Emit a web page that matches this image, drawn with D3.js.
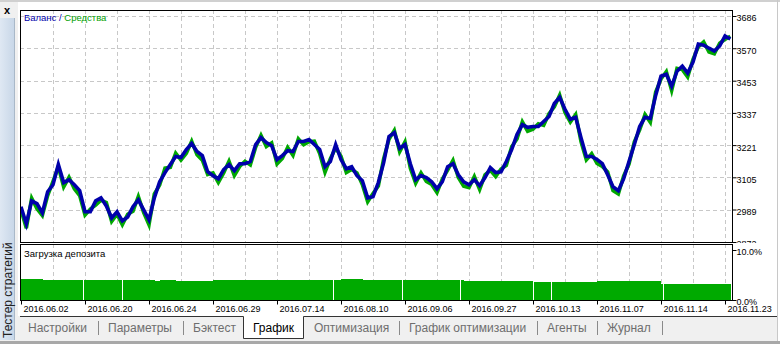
<!DOCTYPE html>
<html>
<head>
<meta charset="utf-8">
<script src="https://cdnjs.cloudflare.com/ajax/libs/d3/7.8.5/d3.min.js"></script>
<style>
body { margin: 0; background: #fff; overflow: hidden; }
text { font-family: "Liberation Sans", Arial, sans-serif; }
</style>
</head>
<body>
<script>
// balance / equity per bar (tester chart, bars are evenly spaced)
var balance = [2999, 2937, 3020, 3010, 2977, 3053, 3078, 3151, 3086, 3096,
  3078, 3057, 2981, 2981, 3020, 3031, 3002, 2959, 2981, 2948,
  2962, 2999, 3024, 2988, 2952, 3031, 3089, 3122, 3151, 3180,
  3176, 3205, 3227, 3198, 3183, 3125, 3111, 3100, 3133, 3151,
  3129, 3154, 3154, 3162, 3223, 3248, 3230, 3219, 3169, 3183,
  3201, 3198, 3234, 3234, 3241, 3223, 3205, 3143, 3162, 3223,
  3169, 3136, 3143, 3111, 3093, 3031, 3035, 3086, 3158, 3252,
  3266, 3209, 3223, 3154, 3096, 3111, 3104, 3089, 3064, 3089,
  3143, 3154, 3114, 3089, 3078, 3096, 3075, 3104, 3140, 3122,
  3125, 3162, 3205, 3259, 3295, 3285, 3288, 3288, 3306, 3324,
  3371, 3393, 3350, 3314, 3321, 3248, 3180, 3180, 3169, 3154,
  3114, 3071, 3057, 3100, 3162, 3223, 3288, 3321, 3317, 3400,
  3469, 3476, 3433, 3487, 3505, 3480, 3520, 3585, 3581, 3570,
  3560, 3578, 3614, 3603];

var equity = [2987, 2922, 3030, 2992, 2967, 3039, 3090, 3143, 3070, 3105,
  3064, 3039, 2969, 2991, 3005, 3023, 3014, 2946, 2972, 2934,
  2972, 2983, 3036, 2978, 2934, 3045, 3077, 3138, 3141, 3192,
  3167, 3191, 3235, 3186, 3167, 3115, 3121, 3086, 3121, 3163,
  3111, 3144, 3163, 3150, 3213, 3256, 3216, 3229, 3153, 3173,
  3213, 3184, 3244, 3222, 3233, 3235, 3191, 3123, 3172, 3211,
  3181, 3122, 3133, 3121, 3079, 3017, 3047, 3074, 3172, 3242,
  3274, 3197, 3233, 3138, 3084, 3121, 3090, 3079, 3050, 3099,
  3131, 3166, 3104, 3073, 3068, 3108, 3061, 3114, 3130, 3108,
  3135, 3148, 3215, 3243, 3305, 3271, 3278, 3298, 3292, 3334,
  3359, 3401, 3338, 3304, 3331, 3234, 3168, 3190, 3155, 3144,
  3124, 3057, 3045, 3110, 3152, 3233, 3276, 3331, 3303, 3412,
  3459, 3486, 3417, 3497, 3493, 3466, 3530, 3575, 3593, 3556,
  3550, 3588, 3602, 3613];

// deposit load, %
var load = [4.2, 4.2, 4.2, 4.2, 4.1, 4.0, 4.0, 4.0, 4.0, 4.0,
  4.0, 4.0, 4.1, 4.1, 4.1, 4.1, 4.0, 4.0, 4.0, 4.0,
  4.0, 4.0, 4.0, 4.0, 4.0, 3.9, 4.0, 4.0, 4.0, 3.8,
  3.8, 3.8, 3.8, 3.8, 3.8, 3.8, 4.0, 4.0, 4.0, 4.0,
  4.0, 4.0, 4.0, 4.0, 4.1, 4.1, 4.1, 4.1, 4.1, 4.1,
  4.1, 4.1, 4.1, 4.1, 4.1, 4.1, 4.1, 4.1, 4.1, 4.1,
  4.2, 4.2, 4.2, 4.2, 4.1, 4.1, 4.1, 4.1, 4.1, 4.1,
  4.1, 4.1, 4.1, 4.1, 4.1, 4.1, 4.1, 4.1, 4.1, 4.1,
  4.1, 4.1, 4.1, 3.9, 3.9, 3.9, 3.9, 3.9, 3.9, 3.9,
  3.9, 3.9, 3.9, 3.9, 3.9, 3.9, 3.7, 3.7, 3.7, 3.7,
  3.7, 3.7, 3.7, 3.7, 3.7, 3.7, 3.7, 3.7, 3.9, 3.9,
  3.9, 3.9, 3.9, 3.9, 3.9, 3.9, 3.9, 3.9, 3.9, 3.9,
  3.2, 3.2, 3.2, 3.2, 3.2, 3.2, 3.2, 3.2, 3.2, 3.2,
  3.2, 3.2, 3.2];
var loadGaps = [11.6, 18.9, 58.5, 71.4, 82.3, 96, 99.4, 120.4]; // bars with no open position

var dateLabels = ["2016.06.02", "2016.06.20", "2016.06.24", "2016.06.29", "2016.07.14", "2016.08.10",
  "2016.09.06", "2016.09.27", "2016.10.13", "2016.11.07", "2016.11.14", "2016.11.23"];
var dateBars = [0, 12, 24, 36, 48, 60, 72, 84, 96, 108, 120, 132];
var yTicks = [2872, 2989, 3105, 3221, 3337, 3453, 3570, 3686];
var loadTicks = [0, 10];
var loadTickLabels = ["0.0%", "10.0%"];

var tabNames = ["Настройки", "Параметры", "Бэктест", "График", "Оптимизация", "График оптимизации", "Агенты", "Журнал"];
var activeTab = 3;

var width = 780, height = 344;
var L = 20, R = 732, T = 10, B1 = 242, T2 = 244, B2 = 300;

var svg = d3.select("body").append("svg")
    .attr("width", width)
    .attr("height", height);

var x = d3.scaleLinear().domain([0, 132]).range([21, 725]);
var y = d3.scaleLinear().domain([2872, 3686]).range([B1, 16]);
var yl = d3.scaleLinear().domain([0, 10]).range([B2, 250]);

// window chrome
svg.append("rect").attr("x", 0).attr("y", 0).attr("width", width).attr("height", 2).attr("fill", "#d0d0d0");
svg.append("rect").attr("x", 0).attr("y", 2).attr("width", 18).attr("height", height).attr("fill", "#f0f0f0");

var defs = svg.append("defs");
var grad = defs.append("linearGradient").attr("id", "strip");
grad.append("stop").attr("offset", "0%").attr("stop-color", "#dfe8f3");
grad.append("stop").attr("offset", "100%").attr("stop-color", "#c8d7e8");
defs.append("clipPath").attr("id", "top")
  .append("rect").attr("x", L).attr("y", T).attr("width", R - L).attr("height", B1 - T);
// axis group is translated to x = R, so its clip box is in local coords
defs.append("clipPath").attr("id", "axisTop")
  .append("rect").attr("x", -2).attr("y", 0).attr("width", width - R + 2).attr("height", T2 - 1);

svg.append("rect").attr("x", 0).attr("y", 18).attr("width", 14).attr("height", 322).attr("fill", "url(#strip)");
svg.append("line").attr("x1", 14.5).attr("x2", 14.5).attr("y1", 18).attr("y2", 340).attr("stroke", "#a9b8c8");
svg.append("text").attr("x", 4).attr("y", 14).attr("font-size", "11px").attr("font-weight", "bold").text("x");
svg.append("text")
  .attr("transform", "translate(12,338) rotate(-90)")
  .attr("font-size", "12px").attr("fill", "#222")
  .text("Тестер стратегий");
svg.append("line").attr("x1", 777.5).attr("x2", 777.5).attr("y1", 0).attr("y2", height).attr("stroke", "#c8c8c8");

// grid
var vgrid = d3.range(6, 133, 6);
svg.append("g").selectAll("line").data(yTicks.slice(1)).enter().append("line")
  .attr("x1", L).attr("x2", R)
  .attr("y1", function(d){ return Math.round(y(d)) + 0.5; })
  .attr("y2", function(d){ return Math.round(y(d)) + 0.5; })
  .attr("stroke", "#c8c8c8").attr("stroke-dasharray", "4,3");
svg.append("g").selectAll("line").data(vgrid).enter().append("line")
  .attr("x1", function(d){ return Math.round(x(d)) + 0.5; })
  .attr("x2", function(d){ return Math.round(x(d)) + 0.5; })
  .attr("y1", T).attr("y2", B1)
  .attr("stroke", "#c8c8c8").attr("stroke-dasharray", "4,3");
svg.append("g").selectAll("line").data(vgrid).enter().append("line")
  .attr("x1", function(d){ return Math.round(x(d)) + 0.5; })
  .attr("x2", function(d){ return Math.round(x(d)) + 0.5; })
  .attr("y1", T2).attr("y2", B2)
  .attr("stroke", "#c8c8c8").attr("stroke-dasharray", "4,3");

// equity and balance
var line = d3.line()
  .x(function(d, i){ return x(i); })
  .y(function(d){ return y(d); });
var plot = svg.append("g").attr("clip-path", "url(#top)");
plot.append("path").datum(equity)
  .attr("d", line).attr("fill", "none")
  .attr("stroke", "#00a800").attr("stroke-width", 3.6).attr("stroke-linejoin", "miter");
plot.append("path").datum(balance)
  .attr("d", line).attr("fill", "none")
  .attr("stroke", "#0000aa").attr("stroke-width", 3.6).attr("stroke-linejoin", "miter");

// deposit load
svg.append("g").selectAll("rect").data(load).enter().append("rect")
  .attr("x", function(d, i){ return x(i); })
  .attr("width", function(d, i){ return x(i + 1) - x(i) + 0.4; })
  .attr("y", function(d){ return yl(d); })
  .attr("height", function(d){ return B2 - yl(d); })
  .attr("fill", "#00aa00")
  .attr("shape-rendering", "crispEdges");
svg.append("g").selectAll("line").data(loadGaps).enter().append("line")
  .attr("x1", function(d){ return Math.round(x(d)) + 0.5; })
  .attr("x2", function(d){ return Math.round(x(d)) + 0.5; })
  .attr("y1", 270).attr("y2", B2)
  .attr("stroke", "#fff");

// panel borders
svg.append("rect").attr("x", L + 0.5).attr("y", T + 0.5).attr("width", R - L).attr("height", B1 - T)
  .attr("fill", "none").attr("stroke", "#000");
svg.append("rect").attr("x", L + 0.5).attr("y", T2 + 0.5).attr("width", R - L).attr("height", B2 - T2)
  .attr("fill", "none").attr("stroke", "#000");

// axes
var yAxis = svg.append("g")
  .attr("transform", "translate(" + (R + 0.5) + ",0)")
  .attr("clip-path", "url(#axisTop)")
  .call(d3.axisRight(y).tickValues(yTicks).tickSize(4).tickPadding(0).tickFormat(d3.format("d")));
yAxis.select(".domain").remove();
yAxis.selectAll("text").attr("dy", "0.55em");

var lAxis = svg.append("g")
  .attr("transform", "translate(" + (R + 0.5) + ",0)")
  .call(d3.axisRight(yl).tickValues(loadTicks).tickSize(4).tickPadding(0)
    .tickFormat(function(d, i){ return loadTickLabels[i]; }));
lAxis.select(".domain").remove();
lAxis.selectAll("text").attr("dy", "0.45em");

var xAxis = svg.append("g")
  .attr("transform", "translate(0," + (B2 + 0.5) + ")")
  .call(d3.axisBottom(x).tickValues(dateBars).tickSize(4).tickPadding(1)
    .tickFormat(function(d, i){ return dateLabels[i]; }));
xAxis.select(".domain").remove();
xAxis.selectAll("text").attr("text-anchor", "start").attr("dx", 2);

svg.selectAll(".tick text").attr("font-family", "Liberation Sans, Arial, sans-serif")
  .attr("font-size", "9px").attr("fill", "#000");

// legends
var lg = svg.append("text").attr("x", 24).attr("y", 21).attr("font-size", "9.5px");
lg.append("tspan").attr("fill", "#0000aa").text("Баланс / ");
lg.append("tspan").attr("fill", "#00a000").text("Средства");
svg.append("text").attr("x", 24).attr("y", 257).attr("font-size", "9.5px").attr("fill", "#000")
  .text("Загрузка депозита");

// tabs
var tabX = [28, 108, 193, 253, 314, 409, 547, 607];
var sepX = [98, 183, 399, 537, 597, 662];
svg.append("rect").attr("x", 15).attr("y", 316).attr("width", 762).attr("height", 25).attr("fill", "#f0f0f0");
svg.append("rect").attr("x", 0).attr("y", 341).attr("width", width).attr("height", 3).attr("fill", "#a8a8a8");
svg.append("rect").attr("x", 243).attr("y", 316).attr("width", 60).attr("height", 22).attr("fill", "#fff");
svg.append("path")
  .attr("d", "M20,316.5H243.5V338.5H303.5V316.5H777")
  .attr("fill", "none").attr("stroke", "#333");
svg.append("g").selectAll("text").data(tabNames).enter().append("text")
  .attr("x", function(d, i){ return tabX[i]; })
  .attr("y", 332)
  .attr("font-size", "12px")
  .attr("fill", function(d, i){ return i === activeTab ? "#000" : "#6e6e6e"; })
  .text(function(d){ return d; });
svg.append("g").selectAll("line").data(sepX).enter().append("line")
  .attr("x1", function(d){ return d + 0.5; }).attr("x2", function(d){ return d + 0.5; })
  .attr("y1", 321).attr("y2", 335)
  .attr("stroke", "#8a8a8a");
</script>
</body>
</html>
